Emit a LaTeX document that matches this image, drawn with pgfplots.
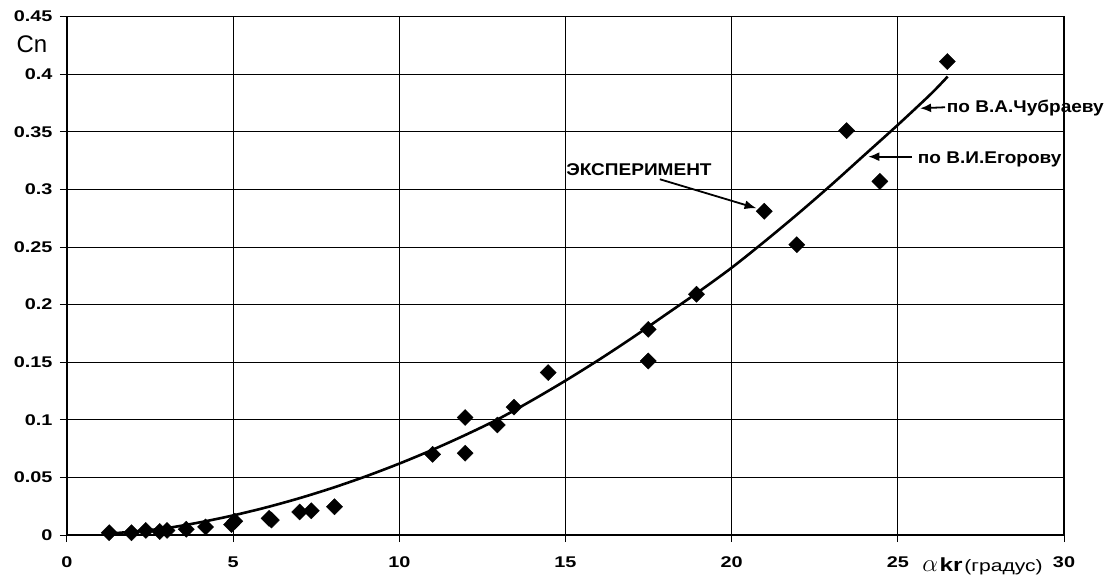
\documentclass[border=0pt]{standalone}
\usepackage{pgfplots}
\pgfplotsset{compat=1.18}
\usepackage{fontspec}
\setmainfont{Liberation Sans}
\newfontfamily\tickfont{Liberation Sans}[FakeStretch=1.28]
\newfontfamily\notefont{Liberation Sans}[FakeStretch=1.12]
\usetikzlibrary{arrows.meta}
\begin{document}
\begin{tikzpicture}
\path[use as bounding box] (-67pt,-41pt) rectangle (1047pt,535pt);
\begin{axis}[
  scale only axis, width=997pt, height=518.4pt,
  at={(0,0)}, anchor=south west,
  xmin=0, xmax=30, ymin=0, ymax=0.45,
  xtick={0,5,10,15,20,25,30},
  xticklabels={0,5,10,15,20,25,30},
  ytick={0,0.05,0.1,0.15,0.2,0.25,0.3,0.35,0.4,0.45},
  yticklabels={0,0.05,0.1,0.15,0.2,0.25,0.3,0.35,0.4,0.45},
  grid=major, major grid style={black, line width=1pt},
  axis line style={black, line width=1.1pt},
  tick align=outside, major tick length=7pt,
  tick style={black, line width=1pt},
  xtick pos=bottom, ytick pos=left,
  ticklabel style={font=\tickfont\bfseries\fontsize{15.5}{18}\selectfont},
  xticklabel style={yshift=-11pt},
  yticklabel style={xshift=-4pt},
  clip=false,
]
\addplot[black, line width=2.6pt, smooth] coordinates {
(1.2,0.001)(2,0.003)(3,0.006)(4,0.011)(5,0.017)(6,0.024)(7,0.032)(8,0.041)(9,0.051)(10,0.062)(11,0.074)(12,0.087)(13,0.101)(14,0.117)(15,0.134)(16,0.152)(17,0.171)(18,0.191)(19,0.211)(20,0.232)(21,0.255)(22,0.279)(23,0.304)(24,0.330)(25,0.356)(26,0.383)(26.5,0.398)};
\addplot[only marks, mark=square*, mark size=5.7pt, mark options={rotate=45, draw=black, fill=black}] coordinates {
(1.27,0.002)(1.94,0.002)(2.37,0.004)(2.79,0.003)(3.01,0.004)(3.59,0.005)(4.17,0.007)(4.95,0.009)(5.05,0.012)(6.08,0.0145)(6.15,0.013)(7.0,0.020)(7.35,0.021)(8.05,0.0245)(11.0,0.070)(11.98,0.102)(11.98,0.071)(12.95,0.0955)(13.45,0.111)(14.48,0.141)(17.49,0.1785)(17.49,0.151)(18.94,0.209)(20.98,0.281)(21.96,0.252)(23.46,0.351)(24.46,0.307)(26.49,0.411)};
\node[font=\notefont\bfseries\fontsize{17}{20}\selectfont, inner sep=0pt] at (axis cs:17.21,0.3168) {ЭКСПЕРИМЕНТ};
\draw[line width=1.8pt, -{Latex[length=12pt,width=9pt]}] (axis cs:17.84,0.3088) -- (axis cs:20.75,0.2836);
\node[font=\notefont\bfseries\fontsize{17}{20}\selectfont, inner sep=0pt, anchor=west] at (axis cs:26.47,0.3704) {по В.А.Чубраеву};
\draw[line width=1.8pt, -{Latex[length=11pt,width=9pt]}] (axis cs:26.42,0.3713) -- (axis cs:25.67,0.3704);
\node[font=\notefont\bfseries\fontsize{17}{20}\selectfont, inner sep=0pt, anchor=west] at (axis cs:25.6,0.3261) {по В.И.Егорову};
\draw[line width=1.8pt, -{Latex[length=11pt,width=9pt]}] (axis cs:25.42,0.3284) -- (axis cs:24.11,0.3284);
\node[font=\fontsize{24}{26}\selectfont, inner sep=0pt] at (axis cs:-1.053,0.4262) {Cn};
\node[inner sep=0pt, anchor=base west] at (axis cs:25.73,-0.03125) {{\fontsize{38}{38}\selectfont$\alpha$}\,{\tickfont\bfseries\fontsize{19}{20}\selectfont kr}\,{\tickfont\fontsize{16.5}{18}\selectfont (градус)}};
\end{axis}
\end{tikzpicture}
\end{document}
